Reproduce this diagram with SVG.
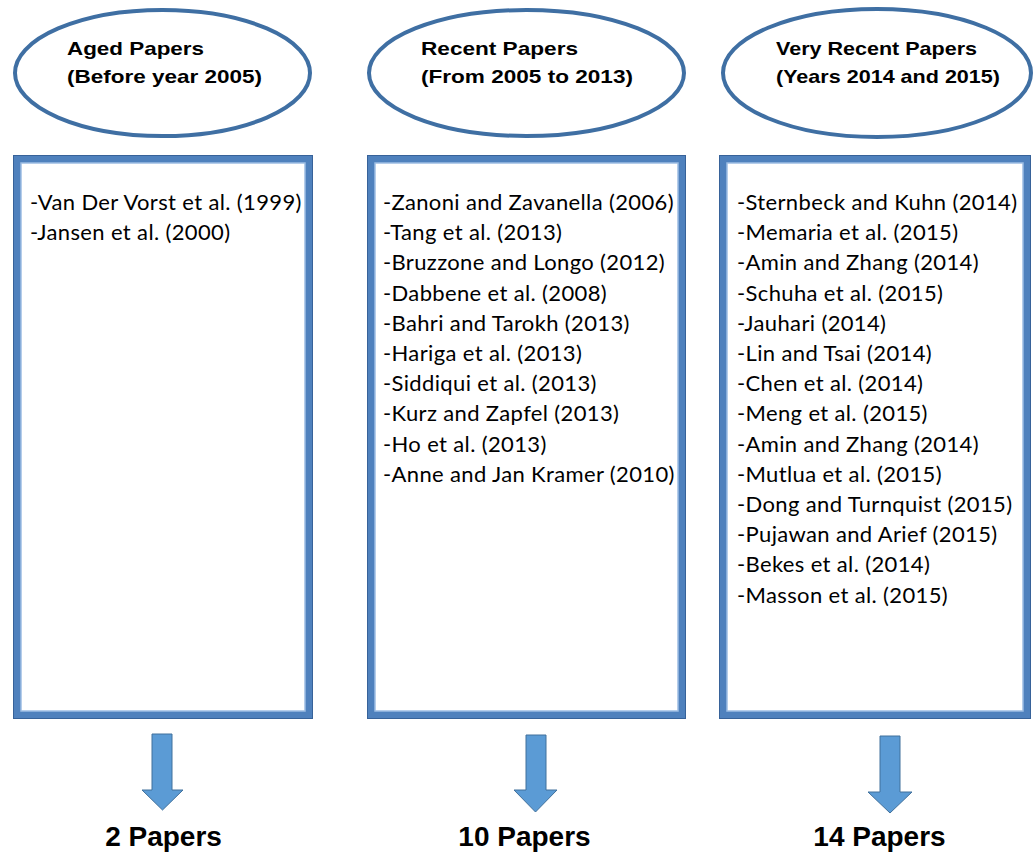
<svg xmlns="http://www.w3.org/2000/svg" width="1034" height="852" viewBox="0 0 1034 852">
  <style>
    .oval { fill: #ffffff; stroke: #3f6fa3; stroke-width: 4; }
    .frame { fill: #ffffff; stroke: #4f81bd; stroke-width: 8; }
    .frame-out { fill: none; stroke: #376299; stroke-width: 1; }
    .frame-in { fill: none; stroke: #9dbde3; stroke-width: 1.5; }
    .title { font-family: "Liberation Sans", Arial, sans-serif; font-weight: bold; font-size: 19px; fill: #000000; }
    .item { font-family: Lato, "Open Sans", sans-serif; font-size: 22px; letter-spacing: 0.36px; fill: #000000; }
    .count { font-family: "Liberation Sans", Arial, sans-serif; font-weight: bold; font-size: 28px; fill: #000000; text-anchor: middle; }
    .arrow { fill: #5b9bd5; stroke: #41719c; stroke-width: 1; }
  </style>

  <!-- Column 1: aged papers -->
  <g id="aged-header">
    <ellipse class="oval" cx="162.5" cy="73" rx="147.5" ry="63"/>
    <text class="title" x="67" y="55" textLength="137" lengthAdjust="spacingAndGlyphs">Aged Papers</text>
    <text class="title" x="67" y="83" textLength="195" lengthAdjust="spacingAndGlyphs">(Before year 2005)</text>
  </g>
  <g id="aged-list">
    <rect class="frame" x="17" y="159" width="292" height="556"/>
    <rect class="frame-out" x="13.5" y="155.5" width="299" height="563"/>
    <rect class="frame-in" x="21" y="163" width="284" height="548"/>
    <g class="item" id="aged-items">
      <text x="30" y="210">-Van Der Vorst et al. (1999)</text>
      <text x="30" y="240">-Jansen et al. (2000)</text>
    </g>
  </g>
  <g id="aged-count">
    <text class="count" x="163.5" y="846">2 Papers</text>
  </g>

  <!-- Column 2: recent papers -->
  <g id="recent-header">
    <ellipse class="oval" cx="526.5" cy="73" rx="157.5" ry="63"/>
    <text class="title" x="421" y="55" textLength="157" lengthAdjust="spacingAndGlyphs">Recent Papers</text>
    <text class="title" x="421" y="83" textLength="212" lengthAdjust="spacingAndGlyphs">(From 2005 to 2013)</text>
  </g>
  <g id="recent-list">
    <rect class="frame" x="371" y="159" width="311" height="556"/>
    <rect class="frame-out" x="367.5" y="155.5" width="318" height="563"/>
    <rect class="frame-in" x="375" y="163" width="303" height="548"/>
    <g class="item" id="recent-items">
      <text x="383" y="210">-Zanoni and Zavanella (2006)</text>
      <text x="383" y="240.2">-Tang et al. (2013)</text>
      <text x="383" y="270.4">-Bruzzone and Longo (2012)</text>
      <text x="383" y="300.6">-Dabbene et al. (2008)</text>
      <text x="383" y="330.8">-Bahri and Tarokh (2013)</text>
      <text x="383" y="361">-Hariga et al. (2013)</text>
      <text x="383" y="391.2">-Siddiqui et al. (2013)</text>
      <text x="383" y="421.4">-Kurz and Zapfel (2013)</text>
      <text x="383" y="451.6">-Ho et al. (2013)</text>
      <text x="383" y="481.8">-Anne and Jan Kramer (2010)</text>
    </g>
  </g>
  <g id="recent-count">
    <text class="count" x="524.5" y="846">10 Papers</text>
  </g>

  <!-- Column 3: very recent papers -->
  <g id="very-recent-header">
    <ellipse class="oval" cx="877" cy="73" rx="154" ry="64"/>
    <text class="title" x="776" y="55" textLength="201" lengthAdjust="spacingAndGlyphs">Very Recent Papers</text>
    <text class="title" x="776" y="83" textLength="224" lengthAdjust="spacingAndGlyphs">(Years 2014 and 2015)</text>
  </g>
  <g id="very-recent-list">
    <rect class="frame" x="723" y="159" width="304" height="556"/>
    <rect class="frame-out" x="719.5" y="155.5" width="311" height="563"/>
    <rect class="frame-in" x="727" y="163" width="296" height="548"/>
    <g class="item" id="very-recent-items">
      <text x="737" y="210">-Sternbeck and Kuhn (2014)</text>
      <text x="737" y="240.2">-Memaria et al. (2015)</text>
      <text x="737" y="270.4">-Amin and Zhang (2014)</text>
      <text x="737" y="300.6">-Schuha et al. (2015)</text>
      <text x="737" y="330.8">-Jauhari (2014)</text>
      <text x="737" y="361">-Lin and Tsai (2014)</text>
      <text x="737" y="391.2">-Chen et al. (2014)</text>
      <text x="737" y="421.4">-Meng et al. (2015)</text>
      <text x="737" y="451.6">-Amin and Zhang (2014)</text>
      <text x="737" y="481.8">-Mutlua et al. (2015)</text>
      <text x="737" y="512">-Dong and Turnquist (2015)</text>
      <text x="737" y="542.2">-Pujawan and Arief (2015)</text>
      <text x="737" y="572.4">-Bekes et al. (2014)</text>
      <text x="737" y="602.6">-Masson et al. (2015)</text>
    </g>
  </g>
  <g id="very-recent-count">
    <text class="count" x="879.5" y="846">14 Papers</text>
  </g>

  <!-- Block arrows from each list to its count -->
  <g id="connectors">
    <path class="arrow" d="M152 734 H172 V790 H183 L162.5 810 L142 790 H152 Z"/>
    <path class="arrow" d="M526 735 H546 V790 H557 L535.5 812 L514 790 H526 Z"/>
    <path class="arrow" d="M880 736 H900 V792 H912 L890 813 L868 792 H880 Z"/>
  </g>
</svg>
